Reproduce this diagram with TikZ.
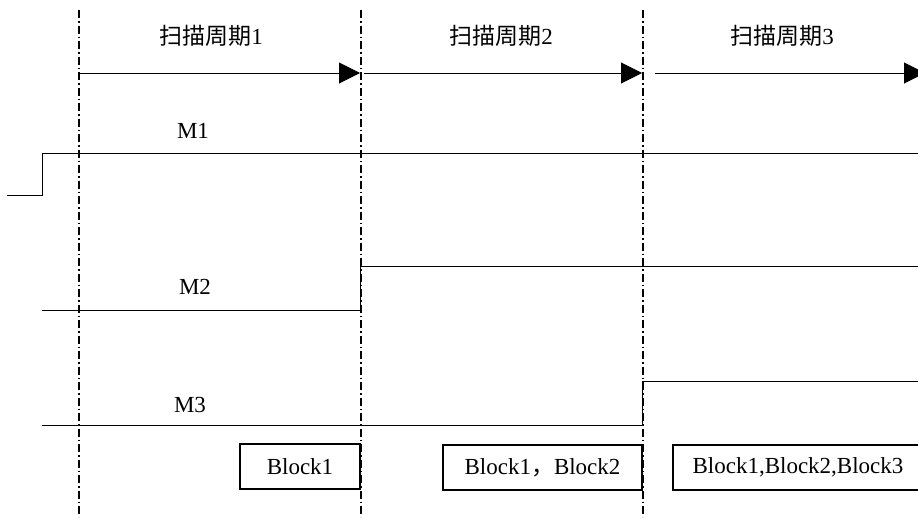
\documentclass[tikz,border=0pt]{standalone}
\usepackage{fontspec}
\setmainfont{Liberation Serif}
\newfontfamily\cjk{Noto Sans CJK SC}
\usetikzlibrary{arrows.meta}
\begin{document}
\begin{tikzpicture}[x=1pt,y=-1pt,
  divider/.style={line width=1.5pt, dash pattern=on 8pt off 3pt on 1.5pt off 3pt},
  period/.style={line width=1pt, -{Triangle[length=21pt,width=21pt]}},
  signal/.style={line width=1pt},
  txt/.style={inner sep=0pt, font=\fontsize{23}{27}\selectfont},
  blockbox/.style={draw, line width=2.3pt, minimum height=45pt, inner sep=0pt, font=\fontsize{23}{27}\selectfont}]
\useasboundingbox (0,0) rectangle (918,517);
\clip (0,0) rectangle (918,517);
% dividers
\coordinate (d1t) at (79,10);  \coordinate (d1b) at (79,517);
\coordinate (d2t) at (361,10); \coordinate (d2b) at (361,517);
\coordinate (d3t) at (643,10); \coordinate (d3b) at (643,517);
\draw[divider] (d1t) -- (d1b);
\draw[divider] (d2t) -- (d2b);
\draw[divider] (d3t) -- (d3b);
% period labels
\node[txt] (p1) at (211,36) {{\cjk 扫描周期}1};
\node[txt] (p2) at (501,36) {{\cjk 扫描周期}2};
\node[txt] (p3) at (782,36) {{\cjk 扫描周期}3};
% period arrows
\coordinate (a1s) at (79,73);  \coordinate (a1e) at (360,73);
\coordinate (a2s) at (364,73); \coordinate (a2e) at (642,73);
\coordinate (a3s) at (655,73); \coordinate (a3e) at (925,73);
\draw[period] (a1s) -- (a1e);
\draw[period] (a2s) -- (a2e);
\draw[period] (a3s) -- (a3e);
% signals
\node[txt] (m1) at (193,131) {M1};
\node[txt] (m2) at (195,287) {M2};
\node[txt] (m3) at (190,405) {M3};
\coordinate (s1a) at (7,195);  \coordinate (s1b) at (42,195);
\coordinate (s1c) at (42,153); \coordinate (s1d) at (918,153);
\draw[signal] (s1a) -- (s1b) -- (s1c) -- (s1d);
\coordinate (s2a) at (42,310);  \coordinate (s2b) at (360,310);
\coordinate (s2c) at (360,266); \coordinate (s2d) at (918,266);
\draw[signal] (s2a) -- (s2b) -- (s2c) -- (s2d);
\coordinate (s3a) at (42,425);  \coordinate (s3b) at (642,425);
\coordinate (s3c) at (642,381); \coordinate (s3d) at (918,381);
\draw[signal] (s3a) -- (s3b) -- (s3c) -- (s3d);
% blocks
\node[blockbox, minimum width=120pt] (b1) at (300,466.5) {Block1};
\node[blockbox, minimum width=199pt] (b2) at (542.5,467.5) {Block1{\cjk ，}Block2};
\node[blockbox, minimum width=250pt] (b3) at (798,467.5) {Block1,Block2,Block3};
\end{tikzpicture}
\end{document}
